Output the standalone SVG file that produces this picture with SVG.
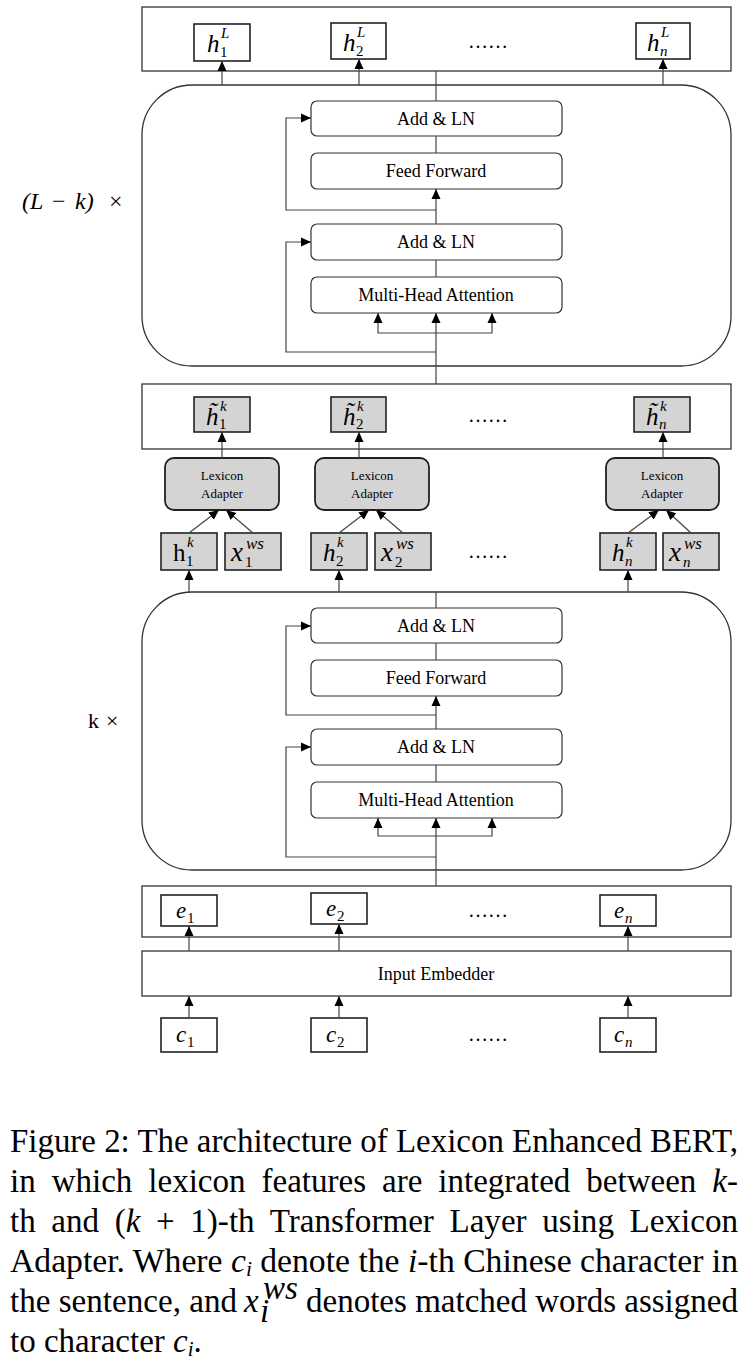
<svg xmlns="http://www.w3.org/2000/svg" width="751" height="1364" viewBox="0 0 751 1364">
<defs>
<marker id="ah" markerUnits="userSpaceOnUse" markerWidth="10" markerHeight="10" viewBox="0 0 10 10" refX="10" refY="5" orient="auto">
<path d="M0,0.5 L10,5 L0,9.5 Z" fill="#000"/>
</marker>
<style>
.frame{fill:#fff;stroke:#333;stroke-width:1.3}
.box{fill:#fff;stroke:#222;stroke-width:1.6}
.gbox{fill:#d4d4d4;stroke:#222;stroke-width:1.6}
.adp{fill:#d4d4d4;stroke:#222;stroke-width:1.8}
.ln{fill:#fff;stroke:#333;stroke-width:1.2}
.c{fill:none;stroke:#444;stroke-width:1.2}
.a{fill:none;stroke:#444;stroke-width:1.2;marker-end:url(#ah)}
.t{fill:#000}
.m{font-style:italic;fill:#000}
.u{font-style:normal;fill:#000}
.dots{font-size:20px;fill:#000}
.cap{font-size:33px;fill:#000}
</style>
</defs>
<g font-family="'Liberation Serif', 'Times New Roman', serif">

<g id="top-row">
<rect class="frame" x="142" y="7" width="589" height="64"/>
<text class="dots" x="488" y="48" text-anchor="middle">……</text>
</g>
<g id="hL1"><rect class="box" x="194" y="24" width="56" height="37"/>
<text class="m" x="207" y="52" font-size="25">h</text><text class="m" x="221" y="38" font-size="15">L</text><text class="u" x="220" y="57" font-size="15">1</text></g>
<g id="hL2"><rect class="box" x="331" y="23" width="55" height="36"/>
<text class="m" x="343" y="51" font-size="25">h</text><text class="m" x="357" y="37" font-size="15">L</text><text class="u" x="356" y="56" font-size="15">2</text></g>
<g id="hLn"><rect class="box" x="636" y="23" width="54" height="36"/>
<text class="m" x="647" y="51" font-size="25">h</text><text class="m" x="661" y="37" font-size="15">L</text><text class="m" x="660" y="56" font-size="15">n</text></g>

<g id="block-top">
<rect class="frame" x="142" y="85" width="589" height="281" rx="50" ry="50"/>
</g>
<g id="addln-t1"><rect class="ln" x="311" y="101" width="251" height="35" rx="6"/><text class="t" x="436" y="125" font-size="18" text-anchor="middle">Add &amp; LN</text></g>
<g id="ff-t"><rect class="ln" x="311" y="153" width="251" height="36" rx="6"/><text class="t" x="436" y="177" font-size="18" text-anchor="middle">Feed Forward</text></g>
<g id="addln-t2"><rect class="ln" x="311" y="224" width="251" height="36" rx="6"/><text class="t" x="436" y="248" font-size="18" text-anchor="middle">Add &amp; LN</text></g>
<g id="mha-t"><rect class="ln" x="311" y="277" width="251" height="36" rx="6"/><text class="t" x="436" y="301" font-size="18" text-anchor="middle">Multi-Head Attention</text></g>

<g id="mid-row">
<rect class="frame" x="142" y="384" width="589" height="65"/>
<text class="dots" x="488" y="422" text-anchor="middle">……</text>
</g>
<g id="ht1"><rect class="gbox" x="194" y="397" width="56" height="35"/>
<text class="m" x="206" y="425" font-size="25">h̃</text><text class="m" x="220" y="411" font-size="15">k</text><text class="u" x="219" y="429" font-size="15">1</text></g>
<g id="ht2"><rect class="gbox" x="331" y="397" width="55" height="35"/>
<text class="m" x="343" y="425" font-size="25">h̃</text><text class="m" x="357" y="411" font-size="15">k</text><text class="u" x="356" y="429" font-size="15">2</text></g>
<g id="htn"><rect class="gbox" x="634" y="397" width="56" height="35"/>
<text class="m" x="646" y="425" font-size="25">h̃</text><text class="m" x="660" y="411" font-size="15">k</text><text class="m" x="659" y="429" font-size="15">n</text></g>

<g id="la1"><rect class="adp" x="165" y="458" width="114" height="52" rx="9"/>
<text class="t" x="222" y="480" font-size="13" text-anchor="middle">Lexicon</text><text class="t" x="222" y="498" font-size="13" text-anchor="middle">Adapter</text></g>
<g id="la2"><rect class="adp" x="315" y="458" width="114" height="52" rx="9"/>
<text class="t" x="372" y="480" font-size="13" text-anchor="middle">Lexicon</text><text class="t" x="372" y="498" font-size="13" text-anchor="middle">Adapter</text></g>
<g id="lan"><rect class="adp" x="606" y="458" width="113" height="52" rx="9"/>
<text class="t" x="662" y="480" font-size="13" text-anchor="middle">Lexicon</text><text class="t" x="662" y="498" font-size="13" text-anchor="middle">Adapter</text></g>

<g id="hk1"><rect class="gbox" x="161" y="533" width="56" height="37"/>
<text class="u" x="173" y="561" font-size="25">h</text><text class="m" x="187" y="547" font-size="15">k</text><text class="u" x="186" y="566" font-size="15">1</text></g>
<g id="xws1"><rect class="gbox" x="225" y="533" width="56" height="37"/>
<text class="m" x="231" y="561" font-size="27">x</text><text class="m" x="246" y="549" font-size="17">ws</text><text class="u" x="245" y="567" font-size="15">1</text></g>
<g id="hk2"><rect class="gbox" x="311" y="533" width="56" height="37"/>
<text class="m" x="323" y="561" font-size="25">h</text><text class="m" x="337" y="547" font-size="15">k</text><text class="u" x="336" y="566" font-size="15">2</text></g>
<g id="xws2"><rect class="gbox" x="375" y="533" width="56" height="37"/>
<text class="m" x="381" y="561" font-size="27">x</text><text class="m" x="396" y="549" font-size="17">ws</text><text class="u" x="395" y="567" font-size="15">2</text></g>
<text class="dots" x="488" y="558" text-anchor="middle">……</text>
<g id="hkn"><rect class="gbox" x="600" y="533" width="56" height="37"/>
<text class="m" x="612" y="561" font-size="25">h</text><text class="m" x="626" y="547" font-size="15">k</text><text class="m" x="625" y="566" font-size="15">n</text></g>
<g id="xwsn"><rect class="gbox" x="663" y="533" width="56" height="37"/>
<text class="m" x="669" y="561" font-size="27">x</text><text class="m" x="684" y="549" font-size="17">ws</text><text class="m" x="683" y="567" font-size="15">n</text></g>

<g id="block-bottom">
<rect class="frame" x="142" y="592" width="589" height="278" rx="50" ry="50"/>
</g>
<g id="addln-b1"><rect class="ln" x="311" y="608" width="251" height="35" rx="6"/><text class="t" x="436" y="632" font-size="18" text-anchor="middle">Add &amp; LN</text></g>
<g id="ff-b"><rect class="ln" x="311" y="660" width="251" height="36" rx="6"/><text class="t" x="436" y="684" font-size="18" text-anchor="middle">Feed Forward</text></g>
<g id="addln-b2"><rect class="ln" x="311" y="729" width="251" height="36" rx="6"/><text class="t" x="436" y="753" font-size="18" text-anchor="middle">Add &amp; LN</text></g>
<g id="mha-b"><rect class="ln" x="311" y="782" width="251" height="36" rx="6"/><text class="t" x="436" y="806" font-size="18" text-anchor="middle">Multi-Head Attention</text></g>

<g id="emb-row">
<rect class="frame" x="142" y="886" width="589" height="51"/>
<text class="dots" x="488" y="917" text-anchor="middle">……</text>
</g>
<g id="e1"><rect class="box" x="161" y="895" width="56" height="31"/><text class="m" x="176" y="918" font-size="23">e</text><text class="u" x="187" y="923" font-size="15">1</text></g>
<g id="e2"><rect class="box" x="311" y="893" width="56" height="31"/><text class="m" x="326" y="916" font-size="23">e</text><text class="u" x="337" y="921" font-size="15">2</text></g>
<g id="en"><rect class="box" x="600" y="895" width="56" height="31"/><text class="m" x="614" y="918" font-size="23">e</text><text class="m" x="625" y="923" font-size="15">n</text></g>

<g id="embedder"><rect class="frame" x="142" y="951" width="589" height="45"/><text class="t" x="436" y="980" font-size="18" text-anchor="middle">Input Embedder</text></g>

<g id="c1"><rect class="box" x="161" y="1018" width="56" height="34"/><text class="m" x="176" y="1042" font-size="23">c</text><text class="u" x="187" y="1047" font-size="15">1</text></g>
<g id="c2"><rect class="box" x="311" y="1018" width="56" height="34"/><text class="m" x="326" y="1042" font-size="23">c</text><text class="u" x="337" y="1047" font-size="15">2</text></g>
<text class="dots" x="488" y="1041" text-anchor="middle">……</text>
<g id="cn"><rect class="box" x="600" y="1018" width="56" height="34"/><text class="m" x="614" y="1042" font-size="23">c</text><text class="m" x="625" y="1047" font-size="15">n</text></g>

<g id="labels">
<text class="m" font-size="24" y="209"><tspan x="22">(L</tspan><tspan x="52" font-style="normal">−</tspan><tspan x="75">k)</tspan><tspan x="109" font-style="normal">×</tspan></text>
<text class="u" font-size="22" y="728"><tspan x="88">k</tspan><tspan x="106">×</tspan></text>
</g>

<g id="connectors">
<line class="c" x1="436" y1="71" x2="436" y2="101"/>
<line class="a" x1="222" y1="85" x2="222" y2="61"/>
<line class="a" x1="359" y1="85" x2="359" y2="59"/>
<line class="a" x1="663" y1="85" x2="663" y2="59"/>
<line class="c" x1="436" y1="136" x2="436" y2="153"/>
<line class="a" x1="436" y1="224" x2="436" y2="189"/>
<polyline class="a" points="436,210 286,210 286,118 311,118"/>
<line class="c" x1="436" y1="260" x2="436" y2="277"/>
<line class="a" x1="436" y1="384" x2="436" y2="313"/>
<polyline class="a" points="436,333 378,333 378,313"/>
<polyline class="a" points="436,333 492,333 492,313"/>
<polyline class="a" points="436,352 286,352 286,242 311,242"/>
<line class="a" x1="222" y1="458" x2="222" y2="432"/>
<line class="a" x1="359" y1="458" x2="359" y2="432"/>
<line class="a" x1="663" y1="458" x2="663" y2="432"/>
<line class="a" x1="189" y1="533" x2="219" y2="510"/>
<line class="a" x1="253" y1="533" x2="226" y2="510"/>
<line class="a" x1="339" y1="533" x2="369" y2="510"/>
<line class="a" x1="403" y1="533" x2="376" y2="510"/>
<line class="a" x1="628" y1="533" x2="659" y2="510"/>
<line class="a" x1="691" y1="533" x2="666" y2="510"/>
<line class="a" x1="189" y1="592" x2="189" y2="570"/>
<line class="a" x1="339" y1="592" x2="339" y2="570"/>
<line class="a" x1="628" y1="592" x2="628" y2="570"/>
<line class="c" x1="436" y1="592" x2="436" y2="608"/>
<line class="c" x1="436" y1="643" x2="436" y2="660"/>
<line class="a" x1="436" y1="729" x2="436" y2="696"/>
<polyline class="a" points="436,715 286,715 286,626 311,626"/>
<line class="c" x1="436" y1="765" x2="436" y2="782"/>
<line class="a" x1="436" y1="886" x2="436" y2="818"/>
<polyline class="a" points="436,836 378,836 378,818"/>
<polyline class="a" points="436,836 492,836 492,818"/>
<polyline class="a" points="436,857 286,857 286,747 311,747"/>
<line class="a" x1="189" y1="951" x2="189" y2="926"/>
<line class="a" x1="339" y1="951" x2="339" y2="924"/>
<line class="a" x1="628" y1="951" x2="628" y2="926"/>
<line class="a" x1="189" y1="1018" x2="189" y2="996"/>
<line class="a" x1="339" y1="1018" x2="339" y2="996"/>
<line class="a" x1="628" y1="1018" x2="628" y2="996"/>
</g>

<g id="caption">
<text class="cap" x="10" y="1152" textLength="728" lengthAdjust="spacingAndGlyphs">Figure 2: The architecture of Lexicon Enhanced BERT,</text>
<text class="cap" x="10" y="1192" word-spacing="7.7" textLength="728" lengthAdjust="spacingAndGlyphs">in which lexicon features are integrated between <tspan font-style="italic">k</tspan>-</text>
<text class="cap" x="10" y="1232" word-spacing="7.3" textLength="728" lengthAdjust="spacingAndGlyphs">th and (<tspan font-style="italic">k</tspan> + 1)-th Transformer Layer using Lexicon</text>
<text class="cap" x="10" y="1272" textLength="728" lengthAdjust="spacingAndGlyphs">Adapter. Where <tspan font-style="italic">c</tspan><tspan font-style="italic" font-size="21" dy="4">i</tspan><tspan dy="-4"> denote the </tspan><tspan font-style="italic">i</tspan>-th Chinese character in</text>
<text class="cap" x="10" y="1312" textLength="227" lengthAdjust="spacingAndGlyphs">the sentence, and</text>
<text class="cap" x="244" y="1312" font-style="italic">x</text>
<text class="cap" x="263" y="1299" font-style="italic" font-size="19">ws</text>
<text class="cap" x="260" y="1322" font-style="italic" font-size="19">i</text>
<text class="cap" x="306" y="1312" textLength="432" lengthAdjust="spacingAndGlyphs">denotes matched words assigned</text>
<text class="cap" x="10" y="1352">to character <tspan font-style="italic">c</tspan><tspan font-style="italic" font-size="21" dy="4">i</tspan><tspan dy="-4">.</tspan></text>
</g>
</g>
</svg>
